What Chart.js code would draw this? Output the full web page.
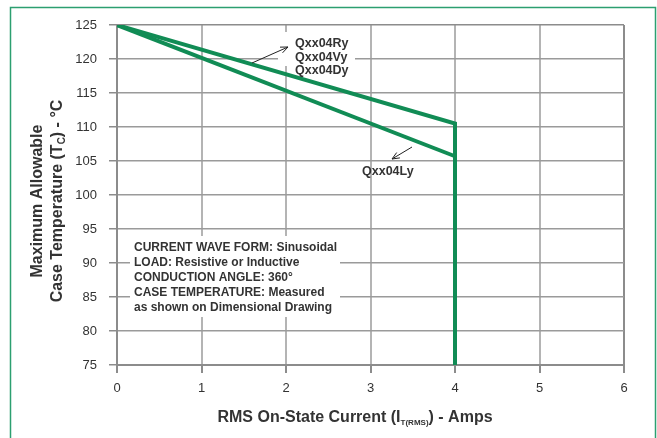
<!DOCTYPE html>
<html>
<head>
<meta charset="utf-8">
<script src="https://cdn.jsdelivr.net/npm/chart.js@4"></script>
<style>
  html, body { margin: 0; padding: 0; background: #fff; }
  #wrap { width: 657px; height: 438px; position: relative; }
</style>
</head>
<body>
<div id="wrap"><canvas id="graficoTemp" width="657" height="438"></canvas></div>
<script>
// Datos
const xTicks = [0, 1, 2, 3, 4, 5, 6];
const yTicks = [75, 80, 85, 90, 95, 100, 105, 110, 115, 120, 125];

// Qxx04Ry / Qxx04Vy / Qxx04Dy
const corrienteRVD = [0, 4, 4];
const tempRVD = [125, 110.5, 75];

// Qxx04Ly
const corrienteL = [0, 4];
const tempL = [125, 105.7];

const etiquetasRVD = ['Qxx04Ry', 'Qxx04Vy', 'Qxx04Dy'];
const etiquetaL = 'Qxx04Ly';
const notas = [
  'CURRENT WAVE FORM: Sinusoidal',
  'LOAD: Resistive or Inductive',
  'CONDUCTION ANGLE: 360\u00B0',
  'CASE TEMPERATURE: Measured',
  'as shown on Dimensional Drawing'
];

const VERDE = '#118c55';
const FUENTE = "'Liberation Sans', Arial, Helvetica, sans-serif";
const TEXTO = '#333333';

function puntos(xs, ys) {
  return xs.map((x, i) => ({ x: x, y: ys[i] }));
}

// dibuja texto con partes (subíndices) centrado en cx
function textoPartes(ctx, partes, cx, cy) {
  let total = 0;
  partes.forEach(p => {
    ctx.font = p.font;
    total += ctx.measureText(p.t).width;
  });
  let x = cx - total / 2;
  ctx.textAlign = 'left';
  ctx.textBaseline = 'middle';
  partes.forEach(p => {
    ctx.font = p.font;
    ctx.fillText(p.t, x, cy + (p.dy || 0));
    x += ctx.measureText(p.t).width;
  });
}

function flecha(ctx, x1, y1, x2, y2) {
  const ang = Math.atan2(y2 - y1, x2 - x1);
  const l = 8;
  ctx.save();
  ctx.strokeStyle = '#222';
  ctx.lineWidth = 1;
  ctx.beginPath();
  ctx.moveTo(x1, y1);
  ctx.lineTo(x2, y2);
  ctx.moveTo(x2 - l * Math.cos(ang - 0.4), y2 - l * Math.sin(ang - 0.4));
  ctx.lineTo(x2, y2);
  ctx.lineTo(x2 - l * Math.cos(ang + 0.4), y2 - l * Math.sin(ang + 0.4));
  ctx.stroke();
  ctx.restore();
}

const pluginExtras = {
  id: 'extras',
  beforeDatasetsDraw(chart) {
    const ctx = chart.ctx;
    const a = chart.chartArea;
    ctx.save();
    ctx.fillStyle = '#fff';
    // caja de notas
    ctx.fillRect(a.left + 13, a.top + 211, 210, 81);
    // caja de etiquetas superiores
    ctx.fillRect(a.left + 161, a.top + 7, 77, 34);
    ctx.restore();
  },
  afterDatasetsDraw(chart) {
    const ctx = chart.ctx;
    const a = chart.chartArea;
    ctx.save();
    ctx.fillStyle = TEXTO;
    ctx.textAlign = 'left';
    ctx.textBaseline = 'middle';

    ctx.font = 'bold 12px ' + FUENTE;
    notas.forEach((t, i) => {
      ctx.fillText(t, a.left + 17, a.top + 223 + i * 15);
    });

    ctx.font = 'bold 12.5px ' + FUENTE;
    etiquetasRVD.forEach((t, i) => {
      ctx.fillText(t, a.left + 178, a.top + 19 + i * 13.5);
    });
    ctx.fillText(etiquetaL, a.left + 245, a.top + 147);

    flecha(ctx, a.left + 135, a.top + 38, a.left + 171, a.top + 22);
    flecha(ctx, a.left + 295, a.top + 122, a.left + 275, a.top + 134);

    // títulos de ejes
    const fb = 'bold 16px ' + FUENTE;
    textoPartes(ctx, [
      { t: 'RMS On-State Current (I', font: fb },
      { t: 'T(RMS)', font: 'bold 8px ' + FUENTE, dy: 5 },
      { t: ') - Amps', font: fb }
    ], 355, 418);

    ctx.translate(38, 201);
    ctx.rotate(-Math.PI / 2);
    textoPartes(ctx, [{ t: 'Maximum Allowable', font: fb }], 0, 0);
    textoPartes(ctx, [
      { t: 'Case Temperature (T', font: fb },
      { t: 'C', font: 'bold 10px ' + FUENTE, dy: 4 },
      { t: ') - \u00B0C', font: fb }
    ], 0, 20);
    ctx.restore();

    // marco verde
    ctx.save();
    ctx.strokeStyle = '#2c9f70';
    ctx.lineWidth = 1.5;
    ctx.strokeRect(10.5, 7.5, 645, 450);
    ctx.restore();
  }
};

const data = {
  datasets: [
    {
      label: etiquetasRVD.join(' / '),
      data: puntos(corrienteRVD, tempRVD),
      borderColor: VERDE,
      borderWidth: 4,
      pointRadius: 0,
      showLine: true,
      fill: false,
      borderJoinStyle: 'miter'
    },
    {
      label: etiquetaL,
      data: puntos(corrienteL, tempL),
      borderColor: VERDE,
      borderWidth: 4,
      pointRadius: 0,
      showLine: true,
      fill: false
    }
  ]
};

const config = {
  type: 'scatter',
  data: data,
  options: {
    responsive: false,
    animation: false,
    layout: {
      padding: { left: 0, right: 33, top: 25, bottom: 0 }
    },
    plugins: {
      legend: { display: false },
      tooltip: { enabled: false }
    },
    scales: {
      x: {
        type: 'linear',
        min: 0,
        max: 6,
        afterBuildTicks: s => { s.ticks = xTicks.map(v => ({ value: v })); },
        afterFit: s => { s.height = 73; },
        ticks: {
          color: TEXTO,
          padding: 8,
          font: { family: FUENTE, size: 13 }
        },
        grid: {
          color: c => (c.tick && c.tick.value === 6) ? '#8c8c8c' : '#b4b4b4',
          lineWidth: 2,
          tickLength: 8,
          tickColor: '#8c8c8c'
        },
        border: { color: '#8c8c8c', width: 2 }
      },
      y: {
        type: 'linear',
        min: 75,
        max: 125,
        afterBuildTicks: s => { s.ticks = yTicks.map(v => ({ value: v })); },
        afterFit: s => { s.width = 117; },
        ticks: {
          color: TEXTO,
          padding: 12,
          font: { family: FUENTE, size: 13 }
        },
        grid: {
          color: c => (c.tick && c.tick.value === 125) ? '#8c8c8c' : '#9a9a9a',
          lineWidth: 1.5,
          tickLength: 8,
          tickColor: '#8c8c8c'
        },
        border: { color: '#8c8c8c', width: 2 }
      }
    }
  },
  plugins: [pluginExtras]
};

window.addEventListener('DOMContentLoaded', () => {
  const ctx = document.getElementById('graficoTemp').getContext('2d');
  new Chart(ctx, config);
});
</script>
</body>
</html>
